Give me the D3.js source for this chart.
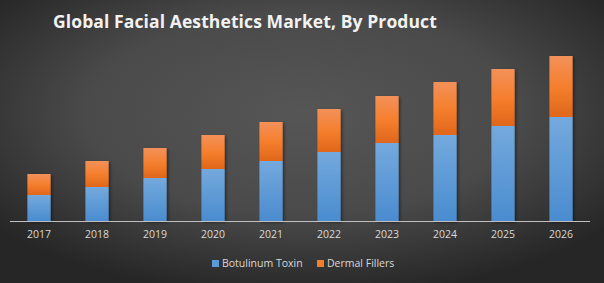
<!DOCTYPE html>
<html>
<head>
<meta charset="utf-8">
<script src="https://cdn.jsdelivr.net/npm/d3@7"></script>
<style>
  html, body { margin: 0; padding: 0; background: #333; }
  svg { display: block; }
</style>
</head>
<body>
<div class="canvas"></div>
<script>
// chart data (relative units, no y axis shown)
const years = ['2017', '2018', '2019', '2020', '2021', '2022', '2023', '2024', '2025', '2026'];
const botulinum = [2.6, 3.4, 4.3, 5.2, 6.0, 6.9, 7.8, 8.6, 9.5, 10.4];
const fillers = [2.1, 2.6, 3.0, 3.4, 3.9, 4.3, 4.7, 5.3, 5.7, 6.1];
const seriesNames = ['Botulinum Toxin', 'Dermal Fillers'];

const width = 604, height = 283;
const margin = {top: 41, right: 14, bottom: 62, left: 10};
const baseY = height - margin.bottom;

const svg = d3.select('.canvas')
  .append('svg')
  .attr('width', width)
  .attr('height', height);

const defs = svg.append('defs');

// background - radial grey
const bg = defs.append('radialGradient').attr('id', 'bg')
  .attr('cx', '50%').attr('cy', '40%').attr('r', '65%');
bg.append('stop').attr('offset', '0%').attr('stop-color', '#565656');
bg.append('stop').attr('offset', '55%').attr('stop-color', '#4a4a4a');
bg.append('stop').attr('offset', '100%').attr('stop-color', '#262626');

// bar fills
const blueGrad = defs.append('linearGradient').attr('id', 'blue')
  .attr('x1', 0).attr('y1', 0).attr('x2', 0).attr('y2', 1);
blueGrad.append('stop').attr('offset', '0%').attr('stop-color', '#74a9dd');
blueGrad.append('stop').attr('offset', '100%').attr('stop-color', '#4a8ccf');

const orangeGrad = defs.append('linearGradient').attr('id', 'orange')
  .attr('x1', 0).attr('y1', 0).attr('x2', 0).attr('y2', 1);
orangeGrad.append('stop').attr('offset', '0%').attr('stop-color', '#f3915a');
orangeGrad.append('stop').attr('offset', '50%').attr('stop-color', '#f57f2e');
orangeGrad.append('stop').attr('offset', '100%').attr('stop-color', '#e0661a');

const shadow = defs.append('filter').attr('id', 'shadow')
  .attr('x', '-30%').attr('y', '-10%').attr('width', '160%').attr('height', '130%');
shadow.append('feDropShadow')
  .attr('dx', 1.5).attr('dy', 1.5).attr('stdDeviation', 1.5)
  .attr('flood-color', '#000').attr('flood-opacity', 0.45);

svg.append('rect')
  .attr('width', width).attr('height', height)
  .attr('fill', 'url(#bg)');

// title
svg.append('text')
  .attr('x', 53).attr('y', 28)
  .attr('fill', '#f2f2f2')
  .style('font-family', '"Open Sans", sans-serif')
  .style('font-weight', 'bold')
  .style('font-size', '17.5px')
  .style('letter-spacing', '0.1px')
  .text('Global Facial Aesthetics Market, By Product');

// scales
const x = d3.scaleBand()
  .domain(years)
  .range([margin.left, width - margin.right])
  .paddingInner(0.6)
  .paddingOuter(0.3);

const y = d3.scaleLinear()
  .domain([0, 18])
  .range([baseY, margin.top]);

// stack the two series
const table = years.map((yr, i) => ({year: yr, botulinum: botulinum[i], fillers: fillers[i]}));
const stacked = d3.stack().keys(['botulinum', 'fillers'])(table);
const fills = ['url(#blue)', 'url(#orange)'];

const bars = svg.append('g').attr('filter', 'url(#shadow)');

bars.selectAll('g')
  .data(stacked)
  .enter()
  .append('g')
  .attr('fill', (d, i) => fills[i])
  .selectAll('rect')
  .data(d => d)
  .enter()
  .append('rect')
  .attr('x', d => x(d.data.year))
  .attr('width', x.bandwidth())
  .attr('y', d => y(d[1]))
  .attr('height', d => y(d[0]) - y(d[1]));

// x axis
const xAxis = d3.axisBottom(x).tickSize(0).tickPadding(10);
const xAxisGroup = svg.append('g')
  .attr('transform', `translate(0, ${baseY})`)
  .call(xAxis);

xAxisGroup.select('.domain')
  .attr('stroke', '#bfbfbf')
  .attr('d', `M${margin.left},0.5H${width - margin.right}`);

xAxisGroup.selectAll('text')
  .attr('fill', '#d9d9d9')
  .style('font-family', '"Open Sans", sans-serif')
  .style('font-size', '10.5px');

// legend
const legendColors = ['#5b9bd5', '#f07f2a'];
const legendX = [212, 317];
const legend = svg.append('g');

const items = legend.selectAll('g')
  .data(seriesNames)
  .enter()
  .append('g')
  .attr('transform', (d, i) => `translate(${legendX[i]}, 260)`);

items.append('rect')
  .attr('width', 7).attr('height', 7)
  .attr('fill', (d, i) => legendColors[i]);

items.append('text')
  .attr('x', 10).attr('y', 7)
  .attr('fill', '#d9d9d9')
  .style('font-family', '"Open Sans", sans-serif')
  .style('font-size', '10.5px')
  .text(d => d);
</script>
</body>
</html>
